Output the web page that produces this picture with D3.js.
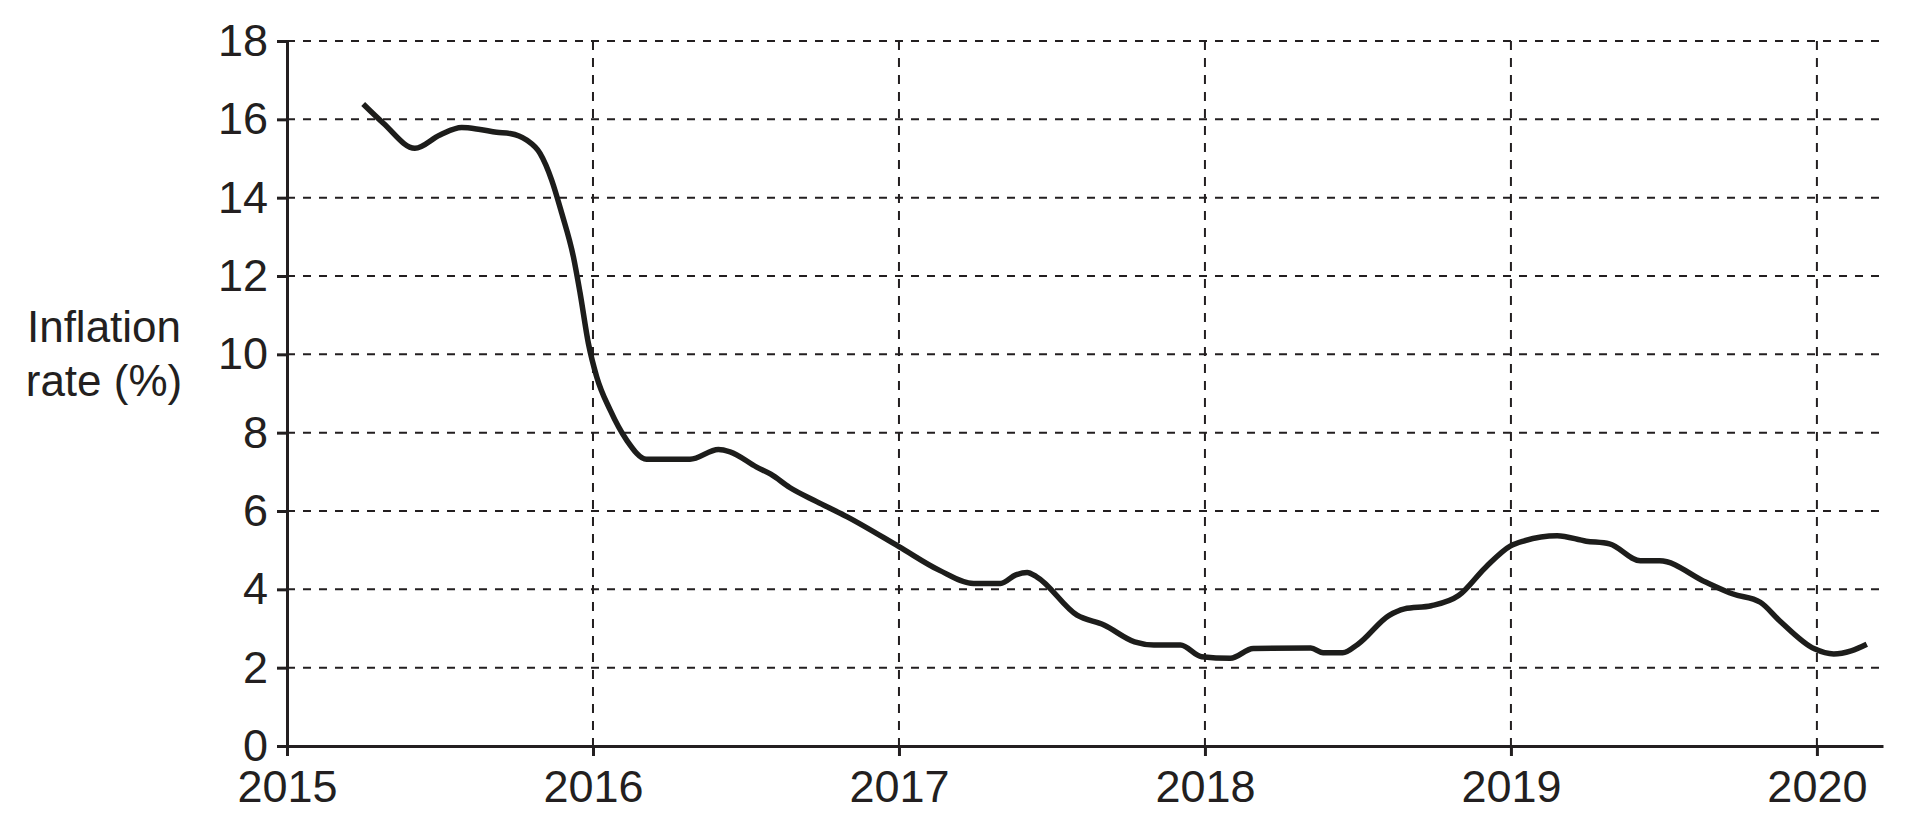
<!DOCTYPE html>
<html>
<head>
<meta charset="utf-8">
<script src="https://cdn.jsdelivr.net/npm/d3@7"></script>
<style>
  html, body { margin: 0; padding: 0; background: #fff; }
  svg { display: block; }
  text { font-family: "Liberation Sans", Arial, Helvetica, sans-serif; fill: #231f20; }
</style>
</head>
<body>
<script>
// ---- data ----
const years = [
  2015.249, 2015.315, 2015.418, 2015.500, 2015.571, 2015.631, 2015.685, 2015.729,
  2015.783, 2015.827, 2015.865, 2015.898, 2015.936, 2015.958, 2015.985, 2016.012,
  2016.056, 2016.110, 2016.175, 2016.317, 2016.410, 2016.448, 2016.535, 2016.581,
  2016.643, 2016.731, 2016.831, 2017.000, 2017.131, 2017.244, 2017.332, 2017.382,
  2017.419, 2017.450, 2017.582, 2017.670, 2017.770, 2017.833, 2017.920, 2017.989,
  2018.083, 2018.158, 2018.346, 2018.386, 2018.450, 2018.500, 2018.601, 2018.652,
  2018.740, 2018.829, 2018.917, 2018.999, 2019.044, 2019.151, 2019.246, 2019.322,
  2019.423, 2019.486, 2019.638, 2019.726, 2019.815, 2019.878, 2019.992, 2020.055,
  2020.112, 2020.163
];
const inflation = [
  16.39, 15.90, 15.26, 15.60, 15.79, 15.74, 15.67, 15.64,
  15.47, 15.13, 14.45, 13.60, 12.49, 11.56, 10.28, 9.43,
  8.58, 7.81, 7.32, 7.32, 7.57, 7.51, 7.12, 6.94,
  6.60, 6.24, 5.85, 5.09, 4.49, 4.15, 4.15, 4.37,
  4.43, 4.32, 3.34, 3.09, 2.66, 2.58, 2.58, 2.28,
  2.24, 2.49, 2.50, 2.38, 2.38, 2.60, 3.33, 3.50,
  3.58, 3.84, 4.56, 5.11, 5.24, 5.37, 5.23, 5.16,
  4.73, 4.73, 4.18, 3.88, 3.67, 3.20, 2.48, 2.35,
  2.43, 2.60
];
const xTickYears = [2015, 2016, 2017, 2018, 2019, 2020];
const yTickValues = [0, 2, 4, 6, 8, 10, 12, 14, 16, 18];
const yTitleLines = ["Inflation", "rate (%)"];

// ---- layout ----
const W = 1906, H = 824;
const ink = "#231f20";
const svg = d3.select("body").append("svg").attr("width", W).attr("height", H);

const x = d3.scaleLinear().domain([2015, 2020.216]).range([287, 1883]);
const y = d3.scaleLinear().domain([0, 18]).range([746, 41]);

// grid
const grid = svg.append("g").attr("stroke", ink).attr("stroke-width", 2).attr("fill", "none");
grid.selectAll("line.h").data(yTickValues.filter(v => v > 0)).join("line")
  .attr("class", "h")
  .attr("x1", x.range()[0]).attr("x2", x.range()[1])
  .attr("y1", d => y(d)).attr("y2", d => y(d))
  .attr("stroke-dasharray", "8,8");
grid.selectAll("line.v").data(xTickYears.filter(v => v > 2015)).join("line")
  .attr("class", "v")
  .attr("x1", d => x(d)).attr("x2", d => x(d))
  .attr("y1", y(18)).attr("y2", y(0))
  .attr("stroke-dasharray", "9,8");

// axes
const yAxis = d3.axisLeft(y).tickValues(yTickValues).tickFormat(d3.format("d"))
  .tickSize(10).tickSizeOuter(0).tickPadding(9);
const xAxis = d3.axisBottom(x).tickValues(xTickYears).tickFormat(d3.format("d"))
  .tickSize(10).tickSizeOuter(0).tickPadding(14);

const gy = svg.append("g").attr("transform", `translate(${x.range()[0]},0)`).call(yAxis);
const gx = svg.append("g").attr("transform", `translate(0,${y(0)})`).call(xAxis);
[gx, gy].forEach(g => {
  g.select(".domain").attr("stroke", ink).attr("stroke-width", 3);
  g.selectAll(".tick line").attr("stroke", ink).attr("stroke-width", 3);
  g.selectAll(".tick text").attr("font-size", 45).attr("fill", ink)
    .attr("font-family", '"Liberation Sans", Arial, sans-serif');
});

// y title
svg.append("text")
  .attr("text-anchor", "middle")
  .attr("font-size", 44)
  .selectAll("tspan").data(yTitleLines).join("tspan")
  .attr("x", 104)
  .attr("y", (d, i) => 342 + i * 54)
  .text(d => d);

// line
const pts = years.map((t, i) => [t, inflation[i]]);
const line = d3.line().x(d => x(d[0])).y(d => y(d[1])).curve(d3.curveMonotoneX);
svg.append("path").datum(pts)
  .attr("d", line)
  .attr("fill", "none")
  .attr("stroke", "#1d1d1b")
  .attr("stroke-width", 5.5)
  .attr("stroke-linejoin", "round");
</script>
</body>
</html>
